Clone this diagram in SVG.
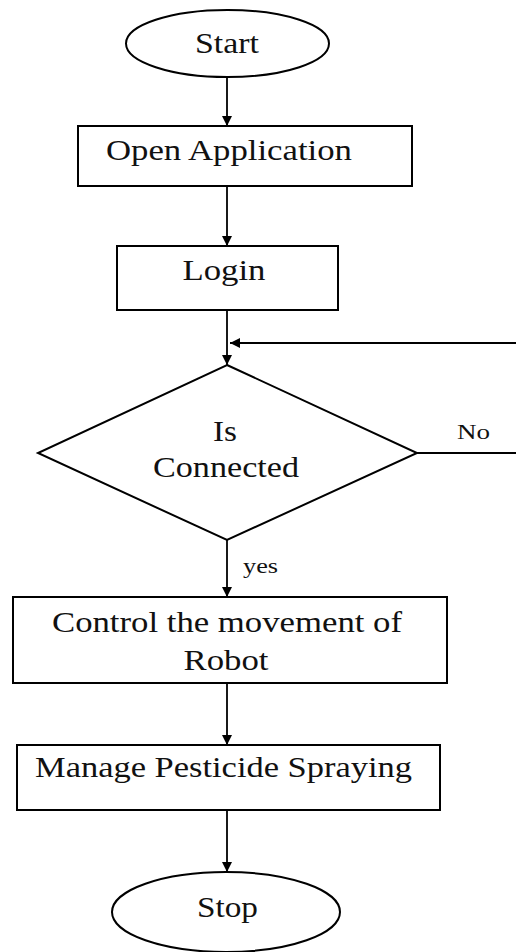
<svg xmlns="http://www.w3.org/2000/svg" width="516" height="952" viewBox="0 0 516 952">
  <style>
    .shape { fill: #ffffff; stroke: #000000; stroke-width: 2; }
    .edge { fill: none; stroke: #000000; stroke-width: 1.8; }
    .label { font-family: "Liberation Serif", "Times New Roman", serif; font-size: 30px; fill: #111111; text-anchor: middle; }
    .small { font-family: "Liberation Serif", "Times New Roman", serif; font-size: 22px; fill: #111111; }
  </style>
  <defs>
    <marker id="arrow" viewBox="0 0 10 10" refX="10" refY="5" markerWidth="10" markerHeight="10" markerUnits="userSpaceOnUse" orient="auto">
      <path d="M0,0 L10,5 L0,10 Z" fill="#000000"/>
    </marker>
  </defs>
  <rect width="516" height="952" fill="#ffffff"/>

  <!-- connectors -->
  <g id="connectors">
    <line class="edge" x1="227" y1="78" x2="227" y2="126" marker-end="url(#arrow)"/>
    <line class="edge" x1="227" y1="186" x2="227" y2="246" marker-end="url(#arrow)"/>
    <line class="edge" x1="227" y1="310" x2="227" y2="365" marker-end="url(#arrow)"/>
    <line class="edge" x1="516" y1="343" x2="230" y2="343" marker-end="url(#arrow)"/>
    <line class="edge" x1="417" y1="453" x2="516" y2="453"/>
    <line class="edge" x1="227" y1="540" x2="227" y2="597" marker-end="url(#arrow)"/>
    <line class="edge" x1="227" y1="683" x2="227" y2="745" marker-end="url(#arrow)"/>
    <line class="edge" x1="227" y1="810" x2="227" y2="872" marker-end="url(#arrow)"/>
    <text class="small" x="457" y="439" textLength="33" lengthAdjust="spacingAndGlyphs">No</text>
    <text class="small" x="243" y="573" textLength="35" lengthAdjust="spacingAndGlyphs">yes</text>
  </g>

  <g id="start">
    <ellipse class="shape" cx="227.5" cy="43.5" rx="101.5" ry="33.5"/>
    <text class="label" x="227" y="53" textLength="64" lengthAdjust="spacingAndGlyphs">Start</text>
  </g>

  <g id="open-application">
    <rect class="shape" x="78" y="126" width="334" height="60"/>
    <text class="label" x="229" y="160" textLength="246" lengthAdjust="spacingAndGlyphs">Open Application</text>
  </g>

  <g id="login">
    <rect class="shape" x="117" y="246" width="221" height="64"/>
    <text class="label" x="224" y="280" textLength="83" lengthAdjust="spacingAndGlyphs">Login</text>
  </g>

  <g id="is-connected">
    <polygon class="shape" points="227,365 417,453 227,540 38,453"/>
    <text class="label" x="225" y="441" textLength="24" lengthAdjust="spacingAndGlyphs">Is</text>
    <text class="label" x="226" y="477" textLength="146" lengthAdjust="spacingAndGlyphs">Connected</text>
  </g>

  <g id="control-robot">
    <rect class="shape" x="13" y="597" width="434" height="86"/>
    <text class="label" x="227" y="632" textLength="350" lengthAdjust="spacingAndGlyphs">Control the movement of</text>
    <text class="label" x="226" y="670" textLength="85" lengthAdjust="spacingAndGlyphs">Robot</text>
  </g>

  <g id="manage-spraying">
    <rect class="shape" x="17" y="745" width="423" height="65"/>
    <text class="label" x="223.5" y="777" textLength="377" lengthAdjust="spacingAndGlyphs">Manage Pesticide Spraying</text>
  </g>

  <g id="stop">
    <ellipse class="shape" cx="226" cy="912" rx="114" ry="40"/>
    <text class="label" x="227.5" y="917" textLength="61" lengthAdjust="spacingAndGlyphs">Stop</text>
  </g>
</svg>
